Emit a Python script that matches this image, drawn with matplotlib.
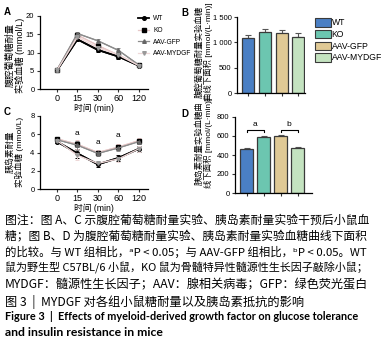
import numpy as np
import matplotlib
matplotlib.use("Agg")
import matplotlib.pyplot as plt
from matplotlib.patches import Patch

plt.rcParams['font.family'] = ['Liberation Sans', 'Noto Sans CJK SC', 'DejaVu Sans']
plt.rcParams['axes.linewidth'] = 0.9
plt.rcParams['xtick.major.width'] = 0.8
plt.rcParams['ytick.major.width'] = 0.8
plt.rcParams['xtick.major.size'] = 2.5
plt.rcParams['ytick.major.size'] = 2.5

groups = ['WT', 'KO', 'AAV-GFP', 'AAV-MYDGF']
times = ['0', '15', '30', '60', '120']

# panel A: glucose tolerance (mmol/L)
gtt_wt = [5.1, 13.6, 10.7, 8.9, 6.4]
gtt_ko = [5.2, 14.8, 11.9, 9.3, 6.5]
gtt_gfp = [5.2, 15.2, 13.2, 10.6, 6.6]
gtt_mydgf = [5.1, 14.2, 11.3, 9.4, 6.4]
gtt_err = [0.3, 0.5, 0.6, 0.6, 0.3]

# panel B: AUC of GTT
auc_gtt = [1080, 1200, 1185, 1115]
auc_gtt_err = [60, 55, 50, 60]

# panel C: insulin tolerance (mmol/L)
itt_wt = [5.2, 3.9, 2.7, 3.4, 4.4]
itt_ko = [5.5, 4.9, 4.0, 4.6, 5.3]
itt_gfp = [5.4, 4.8, 3.9, 4.5, 5.2]
itt_mydgf = [5.3, 3.7, 2.8, 3.3, 4.4]
itt_err = [0.2, 0.5, 0.3, 0.3, 0.3]

# panel D: AUC of ITT
auc_itt = [460, 590, 600, 470]
auc_itt_err = [15, 15, 15, 15]

bar_colors = ['#4a7fc4', '#6cc6b0', '#e0c995', '#c4e3c0']
line_styles = [
    dict(color='black', marker='o', lw=1.3, mfc='black', mec='black'),
    dict(color='#e6c7c7', marker='s', lw=0.9, mfc='black', mec='black'),
    dict(color='#8c8c8c', marker='^', lw=0.9, mfc='#666666', mec='#666666'),
    dict(color='#eed8d8', marker='v', lw=0.9, mfc='#999999', mec='#999999'),
]

W, H = 381, 344
fig = plt.figure(figsize=(W / 100, H / 100), dpi=100)


def ax_px(left, right, top, bottom):
    return fig.add_axes([left / W, 1 - bottom / H, (right - left) / W, (bottom - top) / H])


def style(ax):
    ax.spines['top'].set_visible(False)
    ax.spines['right'].set_visible(False)
    ax.tick_params(labelsize=5.5, pad=1.5, color='#333333')


def line_panel(ax, series, err, ymax, ystep):
    x = np.arange(len(times))
    handles = []
    for s, st, lab in zip(series, line_styles, groups):
        ax.errorbar(x, s, yerr=err, color=st['color'], ecolor=st['color'], elinewidth=0.7,
                    capsize=1.5, capthick=0.7, lw=st['lw'], zorder=2)
        h, = ax.plot(x, s, color=st['color'], lw=st['lw'], marker=st['marker'], ms=2.6,
                     mfc=st['mfc'], mec=st['mec'], label=lab, zorder=3)
        handles.append(h)
    ax.set_xticks(x)
    ax.set_xticklabels(times)
    ax.set_xlim(-0.83, 4.45)
    ax.set_ylim(0, ymax)
    ax.set_yticks(np.arange(0, ymax + 0.1, ystep))
    style(ax)
    ax.tick_params(axis='x', labelsize=6.5, pad=1.2)
    ax.set_xlabel('时间 (min)', fontsize=6.3, labelpad=0)
    return handles


def bar_panel(ax, vals, errs, ymax, ystep, right):
    x = np.arange(len(groups))
    ax.bar(x, vals, width=0.72, color=bar_colors, edgecolor='#3a3a3a', linewidth=0.9, zorder=2)
    ax.errorbar(x, vals, yerr=[[0] * 4, errs], fmt='none', ecolor='#555555',
                elinewidth=0.8, capsize=2, capthick=0.8, zorder=1)
    ax.set_xticks(x)
    ax.set_xticklabels([])
    ax.set_xlim(-0.68, right)
    ax.set_ylim(0, ymax)
    ax.set_yticks(np.arange(0, ymax + 1, ystep))
    style(ax)


# A
axA = ax_px(40, 148, 16, 89)
hA = line_panel(axA, [gtt_wt, gtt_ko, gtt_gfp, gtt_mydgf], gtt_err, 20, 5)
axA.legend(handles=hA, loc='upper left', bbox_to_anchor=(135 / W, 1 - 12 / H),
           bbox_transform=fig.transFigure, frameon=False, fontsize=4.8,
           handlelength=1.6, handletextpad=0.6, labelspacing=0.7, borderpad=0)

# B
axB = ax_px(237, 305, 17, 93)
bar_panel(axB, auc_gtt, auc_gtt_err, 1500, 500, 3.4)
axB.set_yticklabels(['0', '500', '1 000', '1 500'])
hB = [Patch(facecolor=c, edgecolor='#3a3a3a', linewidth=0.8, label=g) for c, g in zip(bar_colors, groups)]
axB.legend(handles=hB, loc='upper left', bbox_to_anchor=(311 / W, 1 - 14 / H),
           bbox_transform=fig.transFigure, frameon=False, fontsize=6.2,
           handlelength=1.8, handleheight=1.1, handletextpad=0.1, labelspacing=0.3, borderpad=0)

# C
axC = ax_px(40, 148, 116, 189)
line_panel(axC, [itt_wt, itt_ko, itt_gfp, itt_mydgf], itt_err, 8, 2)
for xi, yi in [(1, 5.75), (2, 4.75), (3, 5.45)]:
    axC.text(xi, yi, 'a', ha='center', va='bottom', fontsize=6)

# D
axD = ax_px(235, 312, 117, 193)
bar_panel(axD, auc_itt, auc_itt_err, 800, 200, 3.85)
for (x0, x1), lab in [((0, 1), 'a'), ((2, 3), 'b')]:
    axD.plot([x0, x0, x1, x1], [645, 663, 663, 645], color='black', lw=0.8)
    axD.text((x0 + x1) / 2, 680, lab, ha='center', va='bottom', fontsize=6)

# y labels
fig.text(15 / W, 1 - 55 / H, '腹腔葡萄糖耐量\n实验血糖 (mmol/L)', rotation=90, ha='center',
         va='center', fontsize=6.6, linespacing=1.05)
fig.text(204 / W, 1 - 52 / H, '腹腔葡萄糖耐量实验血糖\n曲线下面积 [mmol/(L·min)]', rotation=90,
         ha='center', va='center', fontsize=6.0, linespacing=1.05)
fig.text(15 / W, 1 - 152 / H, '胰岛素耐量\n实验血糖 (mmol/L)', rotation=90, ha='center',
         va='center', fontsize=6.1, linespacing=1.1)
fig.text(204 / W, 1 - 143 / H, '胰岛素耐量实验血糖曲\n线下面积 [mmol/(L·min)]', rotation=90,
         ha='center', va='center', fontsize=6.0, linespacing=1.05)

# panel letters
for lab, x, y in [('A', 7, 12), ('B', 185, 13), ('C', 7, 112), ('D', 185, 114)]:
    fig.text(x / W, 1 - y / H, lab, fontsize=7, fontweight='bold', ha='center', va='center')

# caption
renderer = fig.canvas.get_renderer()


def caption_line(txt, y, family, size, weight='normal', max_w=364):
    t = fig.text(5 / W, 1 - y / H, txt, family=family, fontsize=size, fontweight=weight,
                 ha='left', va='center')
    w = t.get_window_extent(renderer).width
    if w > max_w:
        t.set_fontsize(size * max_w / w)
    return t


cap_font = ['Noto Sans CJK SC', 'DejaVu Sans']
caption = [
    '图注：图 A、C 示腹腔葡萄糖耐量实验、胰岛素耐量实验干预后小鼠血',
    '糖；图 B、D 为腹腔葡萄糖耐量实验、胰岛素耐量实验血糖曲线下面积',
    '的比较。与 WT 组相比，ᵃP < 0.05；与 AAV-GFP 组相比，ᵇP < 0.05。WT',
    '鼠为野生型 C57BL/6 小鼠，KO 鼠为骨髓特异性髓源性生长因子敲除小鼠；',
    'MYDGF：髓源性生长因子；AAV：腺相关病毒；GFP：绿色荧光蛋白',
    '图 3  |  MYDGF 对各组小鼠糖耐量以及胰岛素抵抗的影响',
]
cap_y = [220, 236, 252, 268, 285, 302]
for txt, y in zip(caption, cap_y):
    caption_line(txt, y, cap_font, 8.8)

eng = ['Figure 3  |  Effects of myeloid-derived growth factor on glucose tolerance',
       'and insulin resistance in mice']
for txt, y in zip(eng, [317, 332]):
    caption_line(txt, y, ['Lato', 'DejaVu Sans'], 8.8, weight='bold', max_w=354)

fig.savefig('out.png', dpi=100)
